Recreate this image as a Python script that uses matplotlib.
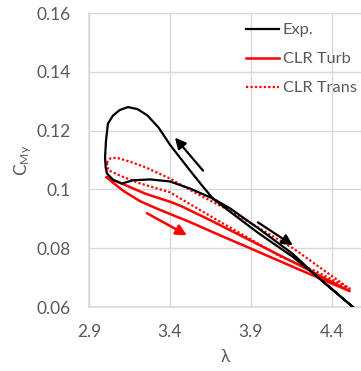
import matplotlib
matplotlib.use("Agg")
import matplotlib.pyplot as plt

plt.rcParams['font.family'] = ['Lato', 'DejaVu Sans']
plt.rcParams['mathtext.fontset'] = 'custom'
plt.rcParams['mathtext.rm'] = 'Lato'
plt.rcParams['mathtext.it'] = 'Lato'

TEXT = '#595959'
GRID = '#d9d9d9'

# experimental hysteresis loop (lambda, C_My)
exp_lam = [4.53, 4.34, 4.16, 3.95, 3.80, 3.665, 3.60, 3.53, 3.462, 3.40, 3.33,
           3.26, 3.20, 3.141, 3.09, 3.048, 3.017, 3.005, 2.999, 3.003, 3.011,
           3.05, 3.104, 3.172, 3.277, 3.40, 3.523, 3.665, 3.77, 3.95,
           4.16, 4.34, 4.53]
exp_cmy = [0.0600, 0.0690, 0.0770, 0.0850, 0.0912, 0.0969, 0.1012, 0.1060,
           0.1108, 0.1152, 0.1210, 0.1252, 0.1273, 0.1280, 0.1270, 0.1251,
           0.1224, 0.1166, 0.1108, 0.1075, 0.1054, 0.1032, 0.1020, 0.1031,
           0.1034, 0.1027, 0.1003, 0.0969, 0.0936, 0.0866, 0.0780, 0.0688,
           0.0600]

# CLR turbulent model loop
turb_lam = [3.009, 3.11, 3.25, 3.40, 3.462, 3.65, 3.894, 4.20, 4.51,
            4.20, 3.894, 3.70, 3.523, 3.42, 3.318, 3.215, 3.112, 3.05, 3.009]
turb_cmy = [0.1041, 0.1018, 0.0985, 0.0958, 0.0945, 0.0895, 0.0827, 0.0742,
            0.0654, 0.0727, 0.0800, 0.0846, 0.0889, 0.0912, 0.0935, 0.0960,
            0.0995, 0.1022, 0.1041]

# CLR transitional model loop
trans_lam = [3.01, 3.03, 3.07, 3.15, 3.25, 3.40, 3.55, 3.73, 3.90, 4.16, 4.51,
             4.30, 4.08, 3.90, 3.70, 3.40, 3.20, 3.10, 3.02, 3.01]
trans_cmy = [0.1090, 0.1105, 0.1108, 0.1095, 0.1075, 0.1037, 0.0990, 0.0939,
             0.0885, 0.0800, 0.0662, 0.0722, 0.0772, 0.0830, 0.0893, 0.0990,
             0.1023, 0.1045, 0.1065, 0.1090]

# direction arrows: (start, end) in data units
black_arrows = [((3.604, 0.1064), (3.431, 0.1176)),
                ((3.943, 0.0888), (4.159, 0.0810))]
red_arrows = [((3.258, 0.0919), (3.505, 0.0844))]

xticks = [2.9, 3.4, 3.9, 4.4]
yticks = [0.06, 0.08, 0.10, 0.12, 0.14, 0.16]
ytick_labels = ['0.06', '0.08', '0.1', '0.12', '0.14', '0.16']

fig = plt.figure(figsize=(3.61, 3.71), dpi=100)
ax = fig.add_axes([89 / 361, 64 / 371, 272 / 361, 294 / 371])

ax.plot(exp_lam, exp_cmy, color='black', lw=1.6, label='Exp.', zorder=3)
ax.plot(turb_lam, turb_cmy, color='#ff0000', lw=1.8, label='CLR Turb', zorder=2)
ax.plot(trans_lam, trans_cmy, color='#ff0000', lw=1.6, ls=(0, (1, 1)),
        label='CLR Trans', zorder=2)

for (x0, y0), (x1, y1) in black_arrows:
    ax.annotate('', xy=(x1, y1), xytext=(x0, y0),
                arrowprops=dict(arrowstyle='-|>', color='black', lw=1.6,
                                mutation_scale=16, shrinkA=0, shrinkB=0))
for (x0, y0), (x1, y1) in red_arrows:
    ax.annotate('', xy=(x1, y1), xytext=(x0, y0),
                arrowprops=dict(arrowstyle='-|>', color='#ff0000', lw=1.8,
                                mutation_scale=16, shrinkA=0, shrinkB=0))

ax.set_xlim(2.9, 4.58)
ax.set_ylim(0.06, 0.16)
ax.set_xticks(xticks)
ax.set_xticklabels([str(t) for t in xticks])
ax.set_yticks(yticks)
ax.set_yticklabels(ytick_labels)
ax.grid(True, color=GRID, lw=1)
ax.set_axisbelow(True)
ax.tick_params(length=0, labelsize=12.5, colors=TEXT, pad=12)
ax.tick_params(axis='y', pad=13)
for side in ['top', 'right']:
    ax.spines[side].set_visible(False)
for side in ['left', 'bottom']:
    ax.spines[side].set_color(GRID)
    ax.spines[side].set_linewidth(1.2)

ax.set_xlabel('λ', fontsize=12.5, color=TEXT, labelpad=7)
ax.set_ylabel(r'C$_{\mathrm{My}}$', fontsize=12.5, color=TEXT, labelpad=2)

leg = ax.legend(loc='upper left', bbox_to_anchor=(246 / 361, 1 - 23 / 371),
                bbox_transform=fig.transFigure, frameon=False, fontsize=11.8,
                handlelength=2.0, handletextpad=0.25, labelspacing=0.88,
                borderpad=0, borderaxespad=0)
for t in leg.get_texts():
    t.set_color(TEXT)

fig.savefig('out.png', dpi=100)
